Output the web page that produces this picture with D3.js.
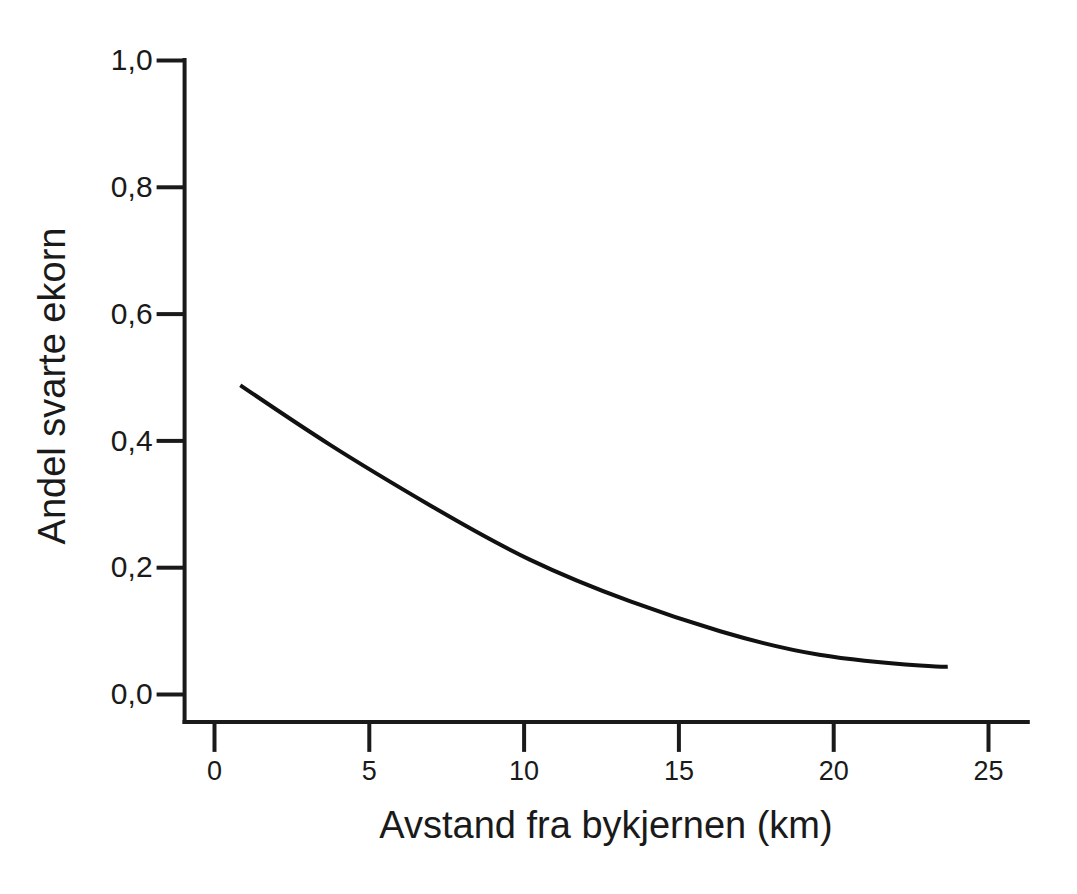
<!DOCTYPE html>
<head>
    <meta charset="utf-8">
    <title>Andel svarte ekorn</title>
    <script src="https://cdn.jsdelivr.net/npm/d3@7"></script>
    <style>
        body { margin: 0; background: #fff; }
        text { font-family: "Liberation Sans", Arial, sans-serif; fill: #1a1a1a; }
    </style>
</head>
<body>

<div id="container"></div>

<script>

// Data
const avstand = [0.85, 3.75, 7, 10.2, 13.45, 16.35, 19.55, 22.8, 23.7];
const andel = [0.487, 0.393, 0.297, 0.212, 0.146, 0.099, 0.062, 0.045, 0.043];
const xTicks = [0, 5, 10, 15, 20, 25];
const yTicks = [0, 0.2, 0.4, 0.6, 0.8, 1.0];
// axis lines run a bit beyond the ticks
const xAxisExtent = [-0.95, 26.35];
const yAxisExtent = [-0.044, 1.0];

const width = 1077;
const height = 894;
const ink = "#1a1a1a";

const svg = d3.create("svg")
    .attr("width", width)
    .attr("height", height);

const x = d3.scaleLinear().domain([0, 25]).range([214, 988]);
const y = d3.scaleLinear().domain([0, 1]).range([694, 60]);

const fmt = d => d3.format(".1f")(d).replace(".", ",");

// Axe X
const gx = svg.append("g")
    .attr("transform", `translate(0,${y(yAxisExtent[0])})`)
    .call(d3.axisBottom(x).tickValues(xTicks).tickSize(30).tickPadding(9).tickFormat(d3.format("d")));
gx.select(".domain").remove();
gx.selectAll(".tick line").attr("stroke", ink).attr("stroke-width", 4);
gx.selectAll(".tick text").style("font-size", "27px").attr("fill", ink);
gx.append("line")
    .attr("x1", x(xAxisExtent[0]) - 2)
    .attr("x2", x(xAxisExtent[1]))
    .attr("stroke", ink)
    .attr("stroke-width", 4);

// Axe Y
const gy = svg.append("g")
    .attr("transform", `translate(${x(xAxisExtent[0])},0)`)
    .call(d3.axisLeft(y).tickValues(yTicks).tickSize(28).tickPadding(4).tickFormat(fmt));
gy.select(".domain").remove();
gy.selectAll(".tick line").attr("stroke", ink).attr("stroke-width", 4);
gy.selectAll(".tick text").style("font-size", "30px").attr("fill", ink);
gy.append("line")
    .attr("y1", y(yAxisExtent[1]) - 2)
    .attr("y2", y(yAxisExtent[0]) + 2)
    .attr("stroke", ink)
    .attr("stroke-width", 4);

// Titres
svg.append("text")
    .attr("x", 606)
    .attr("y", 838)
    .attr("text-anchor", "middle")
    .style("font-size", "38px")
    .text("Avstand fra bykjernen (km)");

svg.append("text")
    .attr("transform", "translate(65,386) rotate(-90)")
    .attr("text-anchor", "middle")
    .style("font-size", "38px")
    .text("Andel svarte ekorn");

// Courbe
const line = d3.line()
    .x((d, i) => x(avstand[i]))
    .y(d => y(d))
    .curve(d3.curveNatural);

svg.append("path")
    .datum(andel)
    .attr("d", line)
    .attr("fill", "none")
    .attr("stroke", "#111")
    .attr("stroke-width", 4);

container.append(svg.node());

</script>

</body>
